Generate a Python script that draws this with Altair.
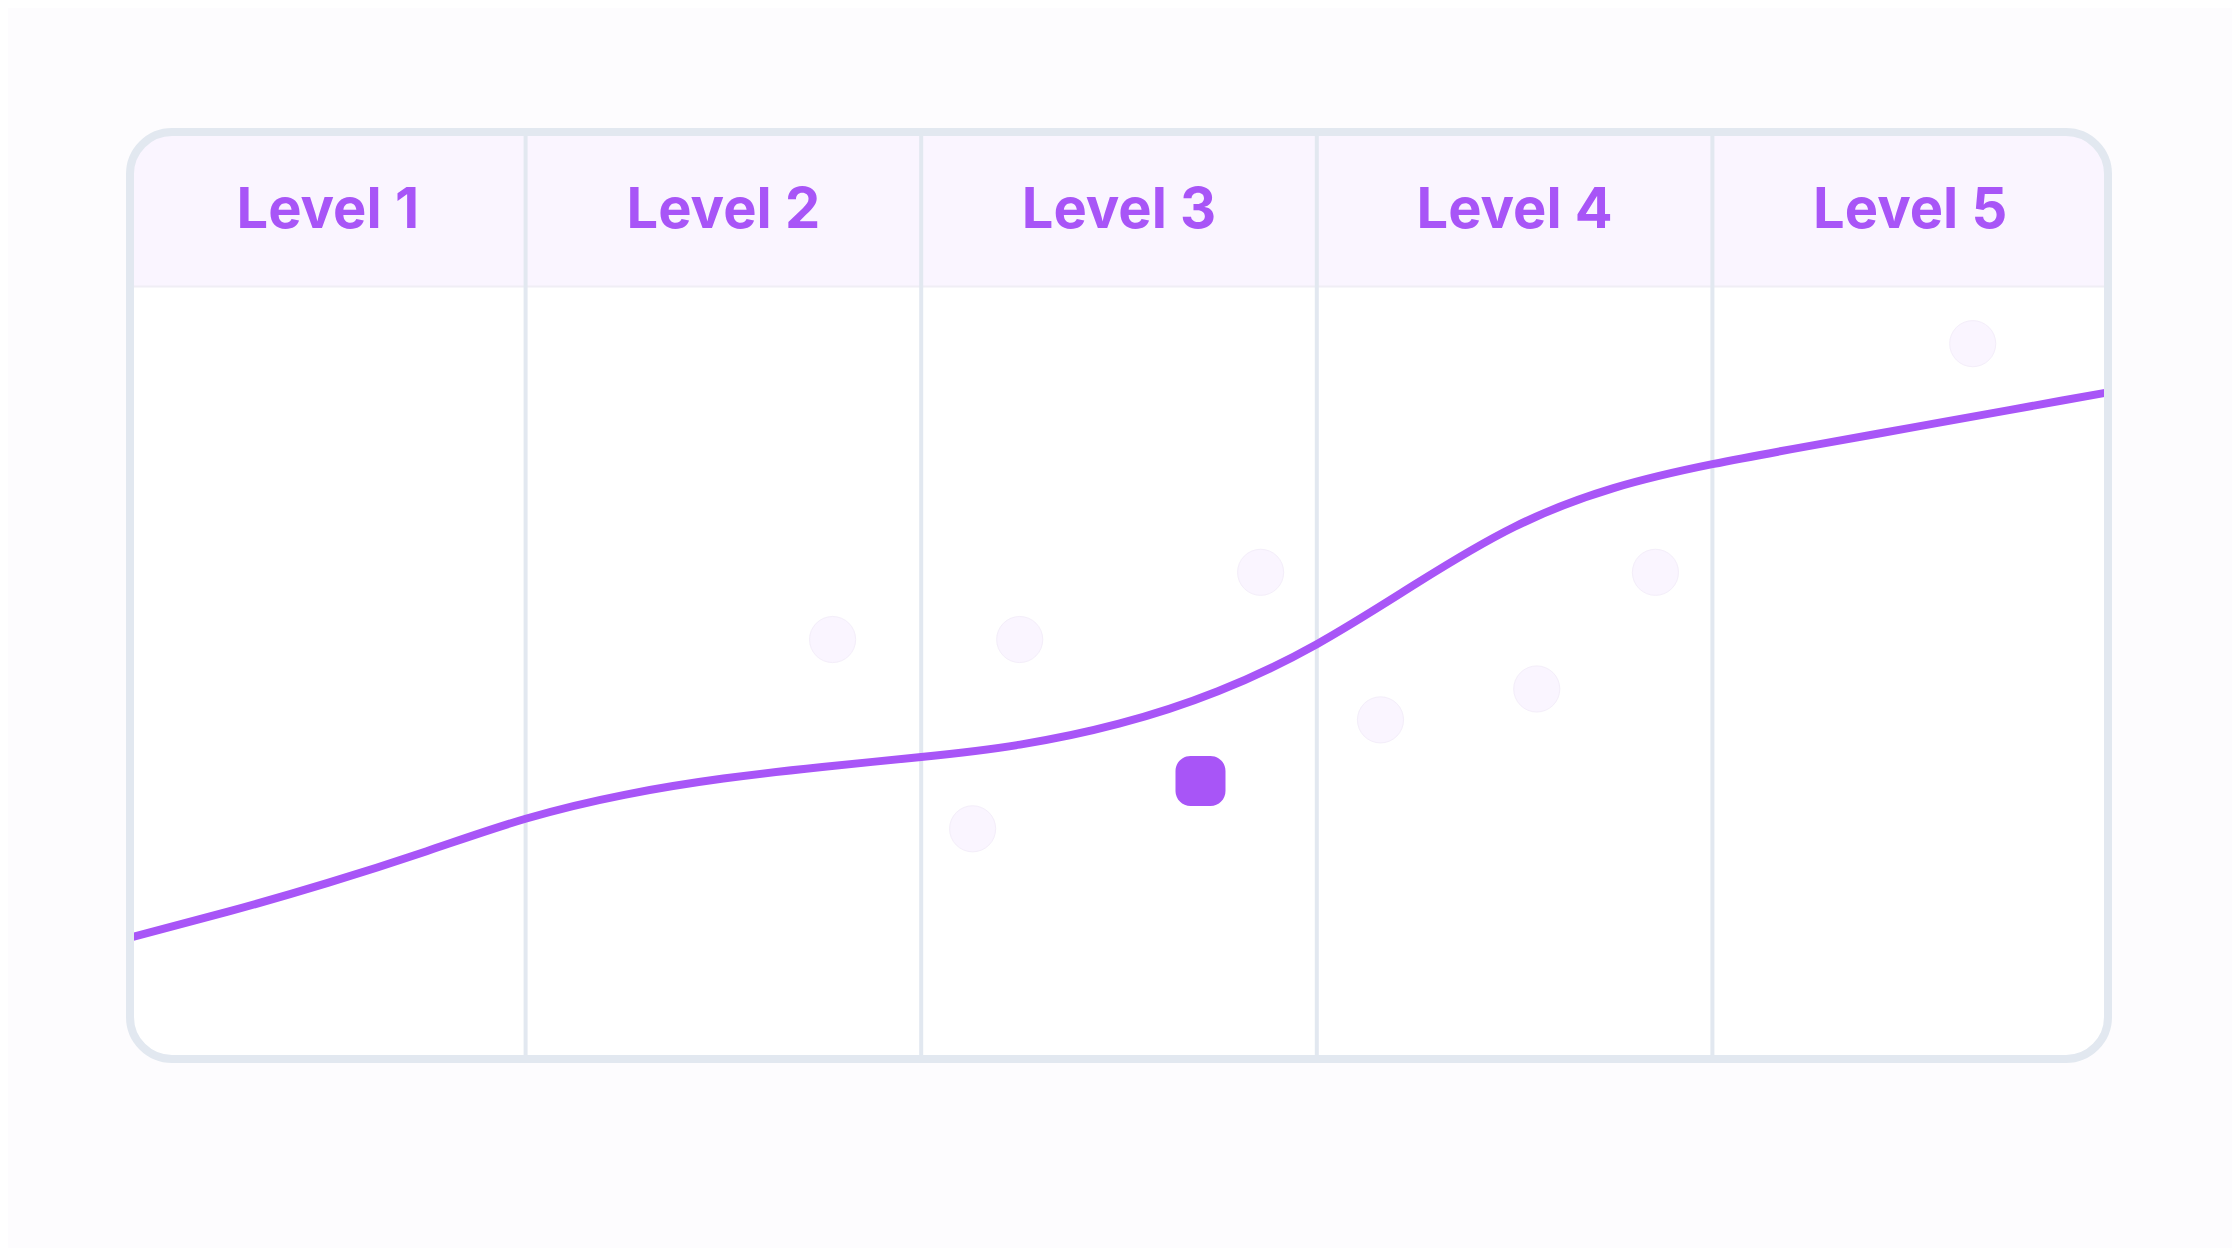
import altair as alt
import pandas as pd

# ---- data ----
levels = ["Level 1", "Level 2", "Level 3", "Level 4", "Level 5"]

line_x = [0.0, 0.25, 0.5, 0.75, 1.0, 1.25, 1.5, 1.75, 2.0, 2.25, 2.5,
          2.75, 3.0, 3.25, 3.5, 3.75, 4.0, 4.25, 4.5, 4.75, 5.0]
line_y = [15.7, 19.1, 22.8, 26.9, 31.1, 34.2, 36.3, 37.8, 39.1, 40.7, 43.4,
          47.6, 53.7, 61.5, 68.9, 73.9, 77.0, 79.4, 81.7, 84.0, 86.3]

dots_x = [1.776, 2.249, 2.130, 2.858, 3.161, 3.556, 3.856, 4.658]
dots_y = [54.3, 54.3, 29.8, 63.0, 43.9, 47.9, 63.0, 92.6]

marker_x = [2.706]
marker_y = [36.0]

PURPLE = "#a855f7"
BORDER = "#e2e8f0"
HEADER_FILL = "#faf5ff"

n = len(levels)
X_DOMAIN = [0, n]
Y_DOMAIN = [0, 120]
HEADER_BOTTOM = 100
LABEL_Y = 107.6

XSCALE = alt.Scale(domain=X_DOMAIN, nice=False, zero=False)
YSCALE = alt.Scale(domain=Y_DOMAIN, nice=False, zero=False)


def xs(field):
    return alt.X(field, type="quantitative", scale=XSCALE, axis=None)


def ys(field):
    return alt.Y(field, type="quantitative", scale=YSCALE, axis=None)


levels_df = pd.DataFrame({"level": levels, "idx": list(range(n))})
levels_df["center"] = levels_df["idx"] + 0.5
levels_df["ly"] = LABEL_Y
dividers_df = pd.DataFrame({"b": list(range(1, n))})
dividers_df["y0"] = Y_DOMAIN[0]
dividers_df["y1"] = Y_DOMAIN[1]
line_df = pd.DataFrame({"u": line_x, "v": line_y})
dots_df = pd.DataFrame({"u": dots_x, "v": dots_y})
marker_df = pd.DataFrame({"u": marker_x, "v": marker_y})
frame_df = pd.DataFrame({"x0": [X_DOMAIN[0]], "x1": [X_DOMAIN[1]],
                         "y0": [Y_DOMAIN[0]], "y1": [Y_DOMAIN[1]], "h": [HEADER_BOTTOM]})

body = alt.Chart(frame_df).mark_rect(fill="#ffffff", cornerRadius=42).encode(
    x=xs("x0"), x2="x1", y=ys("y0"), y2="y1"
)

header = alt.Chart(frame_df).mark_rect(
    fill=HEADER_FILL, cornerRadiusTopLeft=42, cornerRadiusTopRight=42
).encode(x=xs("x0"), x2="x1", y=ys("h"), y2="y1")

header_line = alt.Chart(frame_df).mark_rule(color="#f0eef5", strokeWidth=2).encode(
    x=xs("x0"), x2="x1", y=ys("h")
)

dividers = alt.Chart(dividers_df).mark_rule(color=BORDER, strokeWidth=4).encode(
    x=xs("b"), y=ys("y0"), y2="y1"
)

line = alt.Chart(line_df).mark_line(
    color=PURPLE, strokeWidth=8, interpolate="natural"
).encode(x=xs("u"), y=ys("v"))

dots = alt.Chart(dots_df).mark_circle(
    size=2124, color=HEADER_FILL, stroke="#f4eefa", strokeWidth=1, opacity=1
).encode(x=xs("u"), y=ys("v"))

marker = alt.Chart(marker_df).mark_rect(
    width=50, height=50, cornerRadius=15, color=PURPLE
).encode(x=xs("u"), y=ys("v"))

labels = alt.Chart(levels_df).mark_text(
    font="Inter", fontWeight=700, fontSize=56, color=PURPLE,
    align="center", baseline="alphabetic"
).encode(x=xs("center"), y=ys("ly"), text="level:N")

border = alt.Chart(frame_df).mark_rect(
    fillOpacity=0, stroke=BORDER, strokeWidth=8, cornerRadius=42
).encode(x=xs("x0"), x2="x1", y=ys("y0"), y2="y1")

chart = alt.layer(
    body, header, header_line, dividers, line, dots, marker, labels, border
).properties(
    width=1978, height=927,
    padding={"left": 122, "top": 124, "right": 124, "bottom": 189},
    autosize=alt.AutoSizeParams(type="none"),
    background="#fdfcfe",
).configure_view(strokeWidth=0)

chart.save("out.html", embed_options={"renderer": "svg", "actions": False})
